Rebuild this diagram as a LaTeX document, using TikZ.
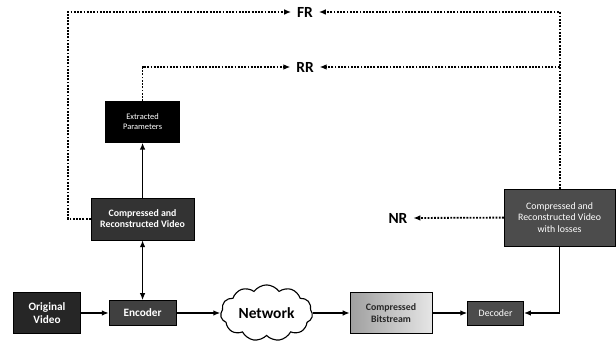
\documentclass[tikz,border=0pt]{standalone}
\usepackage{fontspec}
\setmainfont{Carlito}
\usepackage{xcolor}
\usepackage{tikz}
\usetikzlibrary{shapes.symbols,arrows.meta,positioning}
\definecolor{boxdark}{HTML}{262626}

\begin{document}
\begin{tikzpicture}[
  blk/.style={draw=black,fill=boxdark,text=white,align=center,
              font=\fontsize{7}{8}\selectfont\bfseries,inner sep=1pt},
  lbl/.style={font=\fontsize{11}{12}\selectfont\bfseries,inner sep=4pt},
  arr/.style={-{Latex[length=5pt,width=4pt]},line width=1pt},
  dot/.style={-{Latex[length=5pt,width=4pt]},line width=1.3pt,densely dotted}
]
\useasboundingbox (0,0) rectangle (15.4,8.6);

\node[blk,minimum width=1.675cm,minimum height=1.025cm,
      font=\fontsize{8}{9}\selectfont\bfseries] (orig) at (1.175,0.775) {Original\\Video};
\node[blk,minimum width=1.675cm,minimum height=0.625cm,fill=black!75,
      font=\fontsize{8}{9}\selectfont\bfseries,right=0.7cm of orig] (enc) {Encoder};
\node[cloud,draw,fill=white,cloud puffs=11,cloud puff arc=110,aspect=1.7,
      minimum width=2.3cm,minimum height=1.4cm,inner sep=0pt,line width=0.8pt,
      font=\fontsize{11}{12}\selectfont\bfseries,right=1.1cm of enc] (net) {Network};
\node[blk,minimum width=2.05cm,minimum height=1.025cm,text=black!85,
      left color=gray!75,right color=gray!20,right=0.925cm of net] (bits) {Compressed\\Bitstream};
\node[blk,minimum width=1.4cm,minimum height=0.6cm,fill=black!70,
      font=\fontsize{7}{8}\selectfont,right=0.875cm of bits] (dec) {Decoder};

\node[blk,minimum width=2.575cm,minimum height=1.05cm,fill=black!80,
      above=1.5cm of enc] (crv) {Compressed and\\Reconstructed Video};
\node[blk,minimum width=1.85cm,minimum height=1.025cm,fill=black,
      font=\fontsize{6}{7}\selectfont,above=1.375cm of crv] (ext) {Extracted\\Parameters};
\node[blk,minimum width=2.775cm,minimum height=1.425cm,fill=black!70,
      font=\fontsize{7}{8}\selectfont] (loss) at (13.99,3.16)
      {Compressed and\\Reconstructed Video\\with losses};

\node[lbl] (fr) at (7.625,8.3) {FR};
\node[lbl] (rr) at (7.625,6.925) {RR};
\node[lbl] (nr) at (9.95,3.15) {NR};

\draw[arr] (orig) -- (enc);
\draw[arr] (enc) -- (net);
\draw[arr] (net) -- (bits);
\draw[arr] (bits) -- (dec);
\draw[arr,{Latex[length=5pt,width=4pt]}-{Latex[length=5pt,width=4pt]}] (enc) -- (crv);
\draw[arr] (crv) -- (ext);
\draw[arr] (loss.south) |- (dec.east);

\draw[dot] (crv.west) -- ++(-0.575,0) |- (fr.west);
\draw[dot] (ext.north) |- (rr.west);
\draw[dot] (loss.north) |- (fr.east);
\draw[dot] (loss.north |- rr.east) -- (rr.east);
\draw[dot] (loss.west) -- (nr.east);
\end{tikzpicture}
\end{document}
